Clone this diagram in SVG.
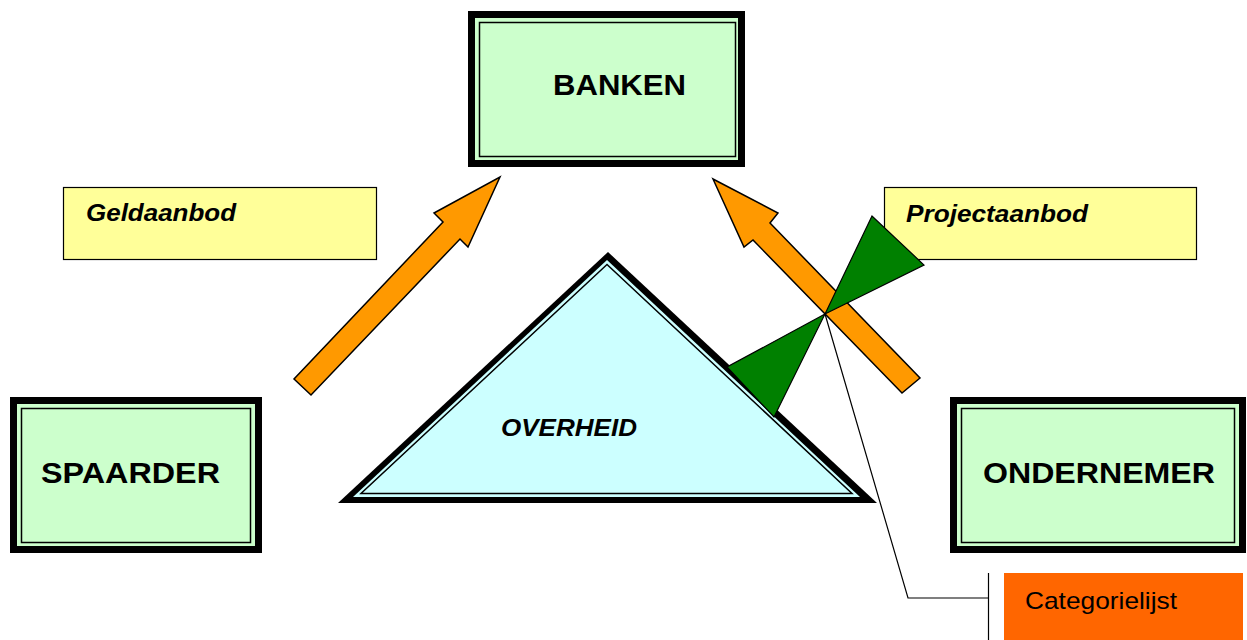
<svg xmlns="http://www.w3.org/2000/svg" width="1247" height="640" viewBox="0 0 1247 640">
  <style>
    .frame { fill: #000000; }
    .pane { fill: #CCFFCC; }
    .rule { fill: none; stroke: #000000; stroke-width: 1.5; }
    .big { font-family: "Liberation Sans", Arial, sans-serif; font-weight: bold; font-size: 29px; fill: #000000; }
    .note { fill: #FFFF99; stroke: #000000; stroke-width: 1.2; }
    .ital { font-family: "Liberation Sans", Arial, sans-serif; font-weight: bold; font-style: italic; font-size: 23px; fill: #000000; }
    .flow { fill: #FF9900; stroke: #000000; stroke-width: 1.5; stroke-linejoin: miter; }
    .wing { fill: #008000; stroke: #000000; stroke-width: 1.2; }
    .lead { fill: none; stroke: #000000; stroke-width: 1.2; }
  </style>

  <!-- label boxes -->
  <g id="geldaanbod">
    <rect class="note" x="63.5" y="187.5" width="313" height="72"/>
    <text class="ital" x="86" y="221" textLength="150" lengthAdjust="spacingAndGlyphs">Geldaanbod</text>
  </g>
  <g id="projectaanbod">
    <rect class="note" x="884.5" y="187.5" width="312" height="72"/>
    <text class="ital" x="906" y="222" textLength="182" lengthAdjust="spacingAndGlyphs">Projectaanbod</text>
  </g>

  <!-- government triangle with double border -->
  <g id="overheid">
    <polygon points="608,252 338,503 877,503" fill="#000000"/>
    <polygon points="607,260 353,497 860,497" fill="#CCFFFF"/>
    <polygon points="607,264.5 361,493.5 852,493.5" fill="#CCFFFF" stroke="#000000" stroke-width="1.5"/>
    <text class="ital" x="501" y="436" textLength="136" lengthAdjust="spacingAndGlyphs">OVERHEID</text>
  </g>

  <g id="connectors">
    <!-- supply of money towards the banks -->
    <polygon class="flow" points="500,177 468,247 460,239 311,395 294,379 443,222 434,213"/>
    <!-- supply of projects towards the banks -->
    <polygon class="flow" points="713,179 778,213 770,223 920,378 902,393 753,240 744,247"/>
  </g>

  <!-- hourglass marker -->
  <g id="hourglass">
    <polygon class="wing" points="825,314 872,216 924,265"/>
    <polygon class="wing" points="825,314 727,367 774,417"/>
  </g>

  <g id="callout-leader">
    <polyline class="lead" points="825,314 908,598 988,598"/>
    <line class="lead" x1="988.5" y1="573" x2="988.5" y2="640"/>
  </g>

  <g id="categorielijst">
    <rect x="1004" y="573" width="239" height="67" fill="#FF6600"/>
    <text x="1025" y="609" font-family="'Liberation Sans', Arial, sans-serif" font-size="24" fill="#000000" textLength="152" lengthAdjust="spacingAndGlyphs">Categorielijst</text>
  </g>

  <!-- actor boxes: thick outer frame, thin inner rule -->
  <g id="banken">
    <rect class="frame" x="468" y="11" width="277" height="156"/>
    <rect class="pane" x="475" y="18" width="263" height="142"/>
    <rect class="rule" x="479.5" y="22.5" width="256" height="134"/>
    <text class="big" x="553" y="95" textLength="133" lengthAdjust="spacingAndGlyphs">BANKEN</text>
  </g>
  <g id="spaarder">
    <rect class="frame" x="10" y="397" width="252" height="156"/>
    <rect class="pane" x="17" y="404" width="238" height="142"/>
    <rect class="rule" x="21.5" y="408.5" width="229" height="134"/>
    <text class="big" x="41" y="483" textLength="179" lengthAdjust="spacingAndGlyphs">SPAARDER</text>
  </g>
  <g id="ondernemer">
    <rect class="frame" x="950" y="397" width="296" height="156"/>
    <rect class="pane" x="957" y="404" width="282" height="142"/>
    <rect class="rule" x="961.5" y="408.5" width="273" height="134"/>
    <text class="big" x="983" y="483" textLength="232" lengthAdjust="spacingAndGlyphs">ONDERNEMER</text>
  </g>
</svg>
